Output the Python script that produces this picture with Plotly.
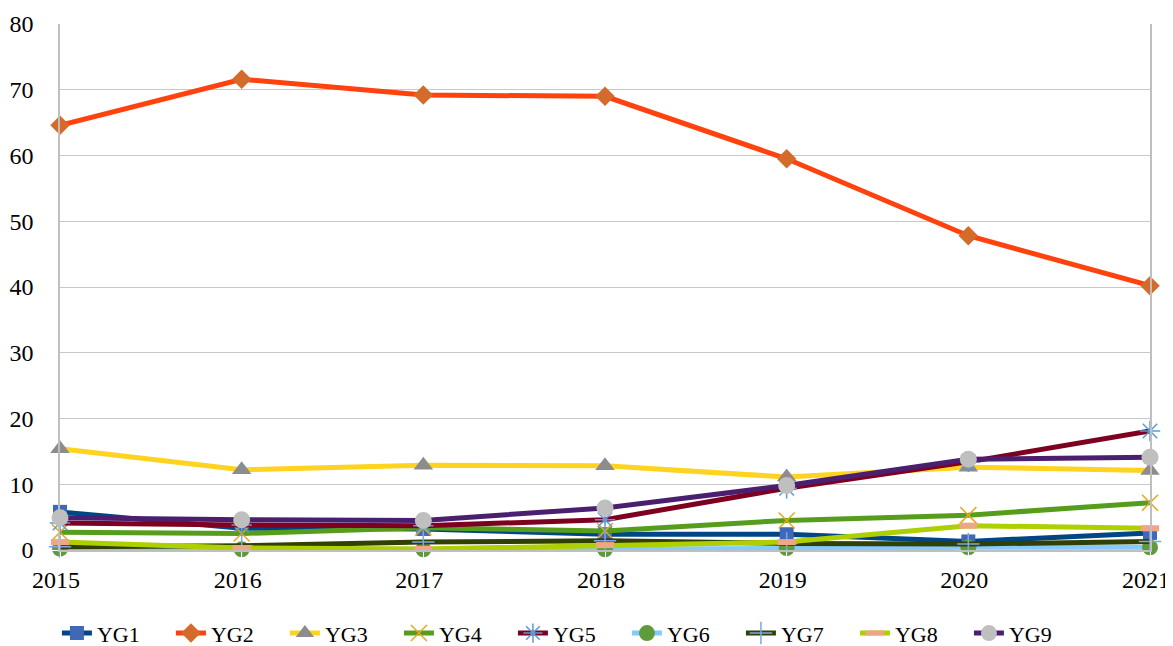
import plotly.graph_objects as go

years = [2015, 2016, 2017, 2018, 2019, 2020, 2021]
series_names = ["YG1", "YG2", "YG3", "YG4", "YG5", "YG6", "YG7", "YG8", "YG9"]

yg1 = [5.8, 3.3, 3.2, 2.4, 2.4, 1.3, 2.6]
yg2 = [64.6, 71.6, 69.2, 69.0, 59.5, 47.8, 40.2]
yg3 = [15.4, 12.2, 12.9, 12.8, 11.1, 12.6, 12.1]
yg4 = [2.7, 2.5, 3.4, 2.9, 4.5, 5.3, 7.2]
yg5 = [4.1, 3.8, 3.7, 4.6, 9.4, 13.4, 18.1]
yg6 = [0.2, 0.1, 0.1, 0.1, 0.3, 0.4, 0.4]
yg7 = [0.5, 0.65, 1.2, 1.4, 1.0, 0.9, 1.3]
yg8 = [1.2, 0.3, 0.15, 0.75, 1.2, 3.7, 3.3]
yg9 = [4.9, 4.6, 4.5, 6.4, 9.8, 13.8, 14.1]

values = [yg1, yg2, yg3, yg4, yg5, yg6, yg7, yg8, yg9]

line_colors = ["#004586", "#ff420e", "#ffd320", "#579d1c", "#7e0021",
               "#83caff", "#314004", "#aecf00", "#4b1f6f"]
marker_styles = [
    dict(symbol="square", size=14, color="#3f68b8"),
    dict(symbol="diamond", size=15, color="#d46b2a"),
    dict(symbol="triangle-up", size=17, color="#8c8c8c"),
    dict(symbol="x-thin-open", size=16, color="#e6a817", line=dict(width=1.5, color="#e6a817")),
    dict(symbol="asterisk-open", size=17, color="#5b9bd5", line=dict(width=1.5, color="#5b9bd5")),
    dict(symbol="circle", size=16, color="#5f9a3c"),
    dict(symbol="cross-thin-open", size=16, color="#7ea6e0", line=dict(width=1.5, color="#7ea6e0")),
    dict(symbol="line-ew-open", size=13, color="#f0a585", line=dict(width=6, color="#f0a585")),
    dict(symbol="circle", size=17, color="#bfbfbf"),
]

fig = go.Figure()
for name, vals, lc, mk in zip(series_names, values, line_colors, marker_styles):
    fig.add_trace(go.Scatter(
        x=years, y=vals, name=name, mode="lines+markers",
        line=dict(color=lc, width=5),
        marker=mk, cliponaxis=False,
    ))

fig.update_layout(
    width=1165, height=638,
    margin=dict(l=52, r=23, t=16, b=96, autoexpand=False),
    plot_bgcolor="white", paper_bgcolor="white",
    font=dict(family="Liberation Serif", size=24, color="#000000"),
    showlegend=True,
    legend=dict(orientation="h", xref="container", x=0.042, xanchor="left",
                yref="container", y=0.02, yanchor="middle",
                entrywidth=69, entrywidthmode="pixels",
                font=dict(family="Liberation Serif", size=22)),
    xaxis=dict(range=[2015, 2021], tickmode="array", tickvals=years,
               ticktext=[str(y) for y in years], automargin=False,
               ticklabeloverflow="allow", ticklabelshift=-4,
               showgrid=False, showline=True, linecolor="#bfbfbf", linewidth=1.5,
               mirror=False, ticks="outside", ticklen=7, tickcolor="white",
               zeroline=False),
    yaxis=dict(range=[0, 80], dtick=10, showgrid=True, gridcolor="#c8c8c8", gridwidth=1.2,
               showline=True, linecolor="#bfbfbf", linewidth=1.5, mirror=True, automargin=False,
               ticks="outside", ticklen=20, tickcolor="white", zeroline=False),
)

fig.write_html("out.html")
